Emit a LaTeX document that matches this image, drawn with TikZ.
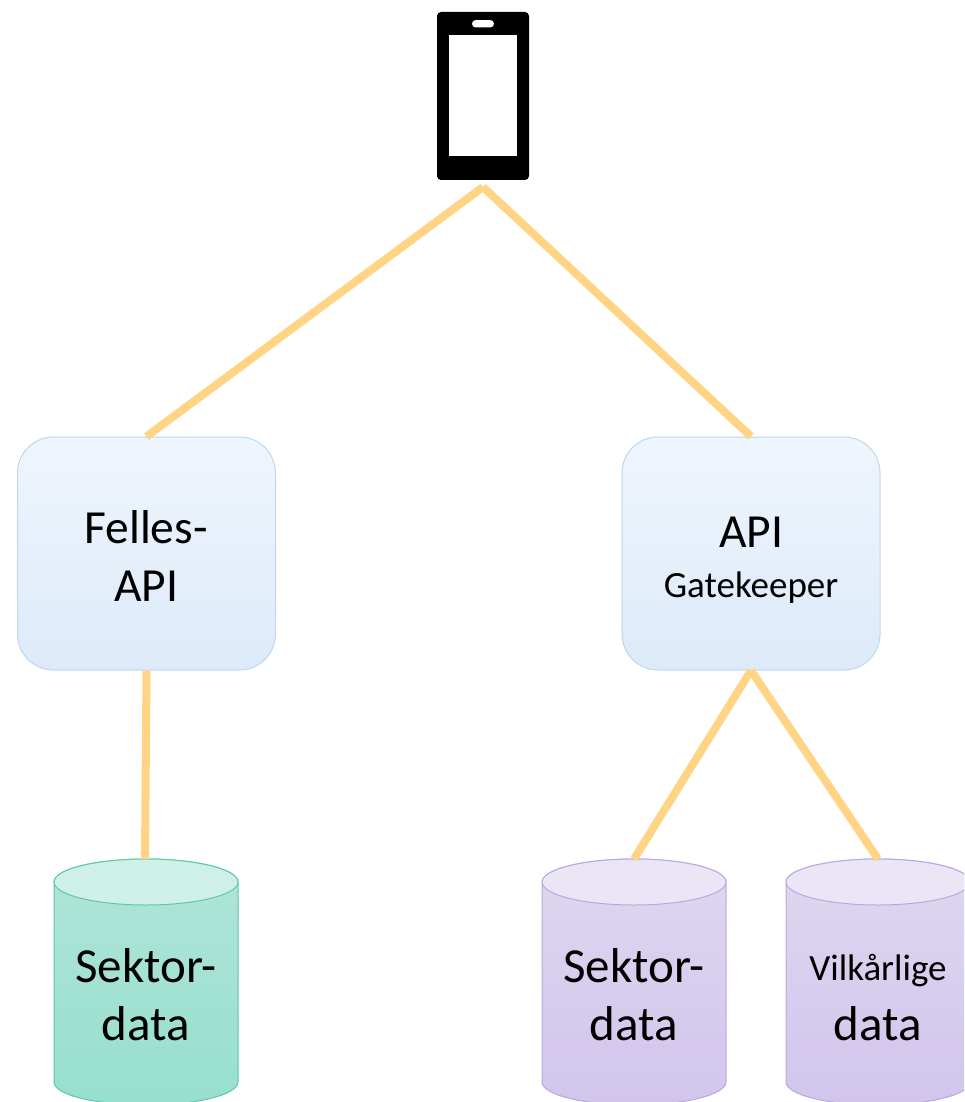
\documentclass[tikz,border=0pt]{standalone}
\usepackage{fontspec}
\setmainfont{Carlito}
\definecolor{linkc}{HTML}{FFD485}
\definecolor{boxtop}{HTML}{EFF5FC}
\definecolor{boxbot}{HTML}{DDEAF9}
\definecolor{boxln}{HTML}{BDD7EE}
\definecolor{grtop}{HTML}{B0E5D8}
\definecolor{grbot}{HTML}{97DFCE}
\definecolor{grcap}{HTML}{CEF0E8}
\definecolor{grln}{HTML}{5CC8AE}
\definecolor{putop}{HTML}{DFD7F0}
\definecolor{pubot}{HTML}{D1C5EC}
\definecolor{pucap}{HTML}{EBE6F6}
\definecolor{puln}{HTML}{B9A7E3}
\newcommand{\bigtxt}{\fontsize{49}{58}\selectfont}
\newcommand{\boxtxt}{\fontsize{47.5}{58}\selectfont}
\newcommand{\smalltxt}{\fontsize{37}{44}\selectfont}
\tikzset{
  x=1pt,y=-1pt,
  link/.style={draw=linkc,line width=8pt},
  apibox/.style={draw=boxln,line width=1pt,rounded corners=36pt,top color=boxtop,bottom color=boxbot,
    minimum width=258pt,minimum height=233pt,inner sep=0pt},
  cyltext/.style={inner sep=0pt,align=center,font=\bigtxt},
  boxtext/.style={inner sep=0pt,align=center,font=\boxtxt},
  phonebody/.style={fill=black,rounded corners=4pt,minimum width=92pt,minimum height=168pt,inner sep=0pt},
  phonescreen/.style={fill=white,minimum width=68.5pt,minimum height=121pt,inner sep=0pt},
  phonespeaker/.style={fill=white,rounded corners=3.7pt,minimum width=22pt,minimum height=7.4pt,inner sep=0pt}
}
\newcommand{\dbcyl}[4]{%
  \path[draw=#4ln,line width=1pt,top color=#2,bottom color=#3]
    (#1-92,882) -- (#1-92,1082) arc[start angle=180,end angle=360,x radius=92pt,y radius=23pt]
    -- (#1+92,882) arc[start angle=0,end angle=180,x radius=92pt,y radius=23pt] -- cycle;
  \path[draw=#4ln,line width=1pt,fill=#4cap] (#1,882) ellipse[x radius=92pt,y radius=23pt];
}
\begin{document}
\begin{tikzpicture}
\useasboundingbox (0,0) rectangle (964,1102);
\clip (0,0) rectangle (964,1102);
\node[phonebody] (phone) at (483,96) {};
\node[phonescreen] (screen) at (483,95.5) {};
\node[phonespeaker] (speaker) at (483,23.8) {};
\coordinate (hub) at (483,187);

\node[apibox] (felles) at (146.5,553.5) {};
\node[apibox] (gate) at (751,553.5) {};
\node[boxtext] (tfelles) at (146,556) {Felles-\\API};
\node[boxtext] (tgate) at (751,560.5) {API\\[-8pt]{\smalltxt Gatekeeper}};

\dbcyl{146}{grtop}{grbot}{gr}
\dbcyl{634}{putop}{pubot}{pu}
\dbcyl{878}{putop}{pubot}{pu}
\coordinate (dbgreen) at (145,859);
\coordinate (dbsektor) at (634,859);
\coordinate (dbvilk) at (878,859);

\node[cyltext] (tgreen) at (146,995) {Sektor-\\data};
\node[cyltext] (tsektor) at (634,995) {Sektor-\\data};
\node[cyltext] (tvilk) at (878,998) {{\smalltxt Vilkårlige}\\[2pt]data};

\draw[link] (hub) -- (felles.north);
\draw[link] (hub) -- (gate.north);
\draw[link] (felles.south) -- (dbgreen);
\draw[link] (gate.south) -- (dbsektor);
\draw[link] (gate.south) -- (dbvilk);
\end{tikzpicture}
\end{document}
